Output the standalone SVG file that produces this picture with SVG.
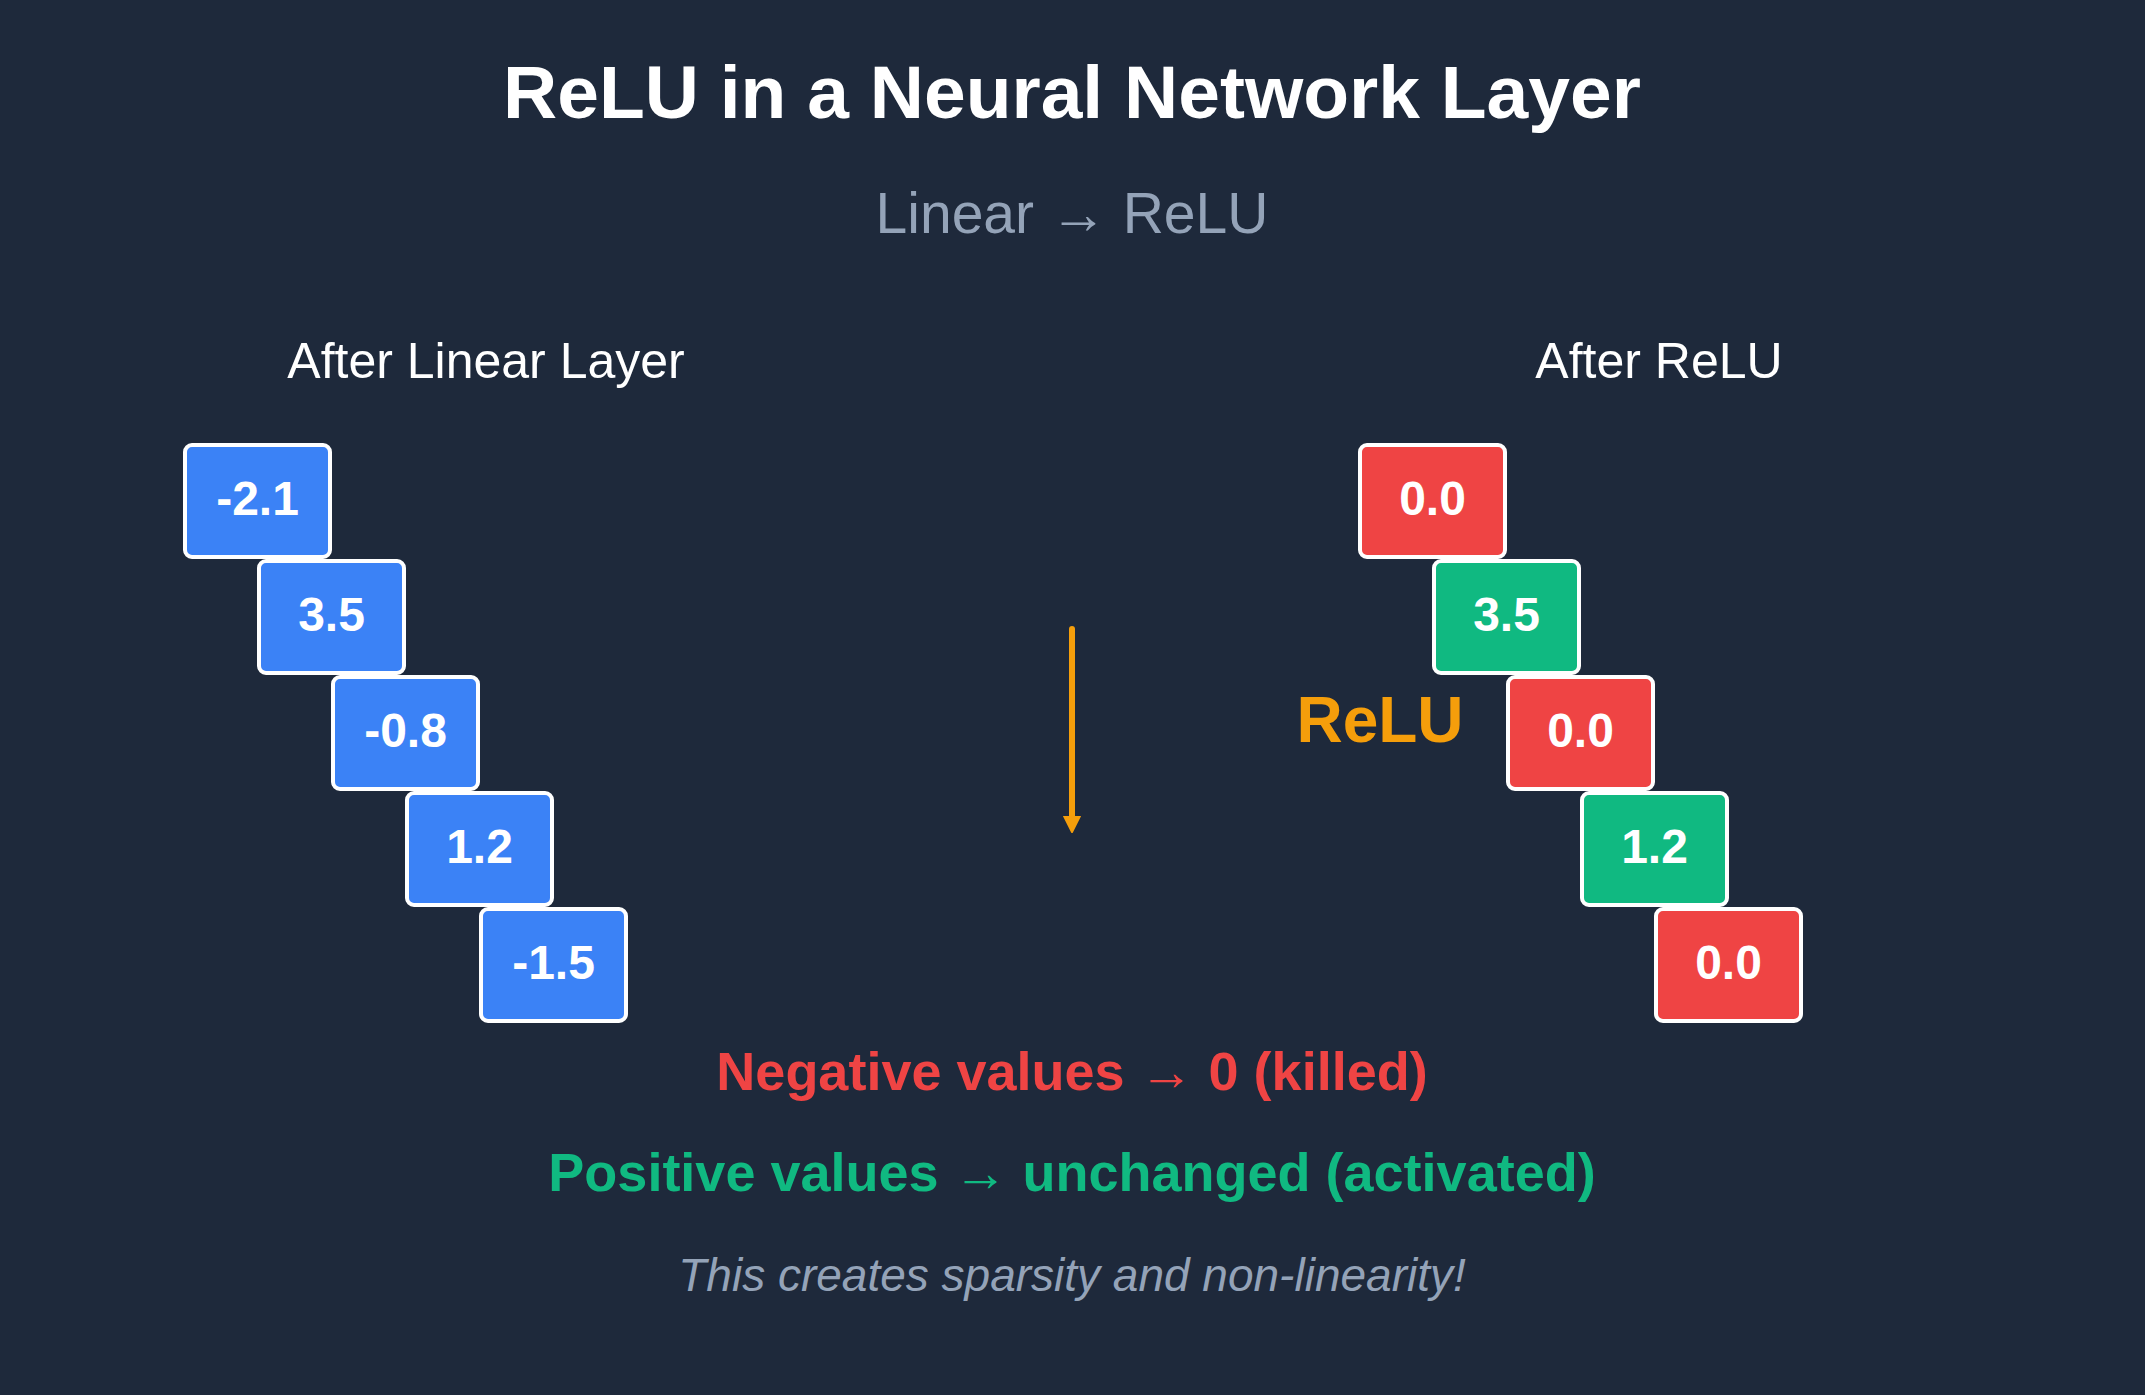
<svg xmlns="http://www.w3.org/2000/svg" width="2145" height="1395" viewBox="0 0 2145 1395">
<style>
.bg{fill:#1e293b}
.box{stroke:#ffffff;stroke-width:4}
.blue{fill:#3b82f6}
.red{fill:#ef4444}
.green{fill:#10b981}
.val{font-family:"Liberation Sans",Arial,sans-serif;font-weight:bold;font-size:48px;fill:#ffffff;text-anchor:middle}
.t{font-family:"Liberation Sans",Arial,sans-serif;text-anchor:middle}
</style>
<defs>
<marker id="ah" markerUnits="userSpaceOnUse" markerWidth="20" markerHeight="20" refX="2" refY="9" orient="auto">
<path d="M0,1 L16,9 L0,17 Z" fill="#f59e0b" stroke="#f59e0b" stroke-width="2" stroke-linejoin="round"/>
</marker>
</defs>
<rect class="bg" x="0" y="0" width="2145" height="1395"/>
<text class="t" x="1072" y="118" font-size="75" font-weight="bold" fill="#ffffff">ReLU in a Neural Network Layer</text>
<text class="t" x="1072" y="233" font-size="57" fill="#94a3b8">Linear → ReLU</text>
<text class="t" x="486" y="378" font-size="50" fill="#ffffff">After Linear Layer</text>
<text class="t" x="1659" y="378" font-size="50" fill="#ffffff">After ReLU</text>

<g id="connectors">
<line x1="1072" y1="629" x2="1072" y2="818" stroke="#f59e0b" stroke-width="6" stroke-linecap="round" marker-end="url(#ah)"/>
</g>
<text class="t" x="1380" y="742" font-size="64" font-weight="bold" fill="#f59e0b">ReLU</text>

<g id="in1"><rect class="box blue" x="185" y="445" width="145" height="112" rx="7"/><text class="val" x="257.5" y="515">-2.1</text></g>
<g id="in2"><rect class="box blue" x="259" y="561" width="145" height="112" rx="7"/><text class="val" x="331.5" y="631">3.5</text></g>
<g id="in3"><rect class="box blue" x="333" y="677" width="145" height="112" rx="7"/><text class="val" x="405.5" y="747">-0.8</text></g>
<g id="in4"><rect class="box blue" x="407" y="793" width="145" height="112" rx="7"/><text class="val" x="479.5" y="863">1.2</text></g>
<g id="in5"><rect class="box blue" x="481" y="909" width="145" height="112" rx="7"/><text class="val" x="553.5" y="979">-1.5</text></g>

<g id="out1"><rect class="box red" x="1360" y="445" width="145" height="112" rx="7"/><text class="val" x="1432.5" y="515">0.0</text></g>
<g id="out2"><rect class="box green" x="1434" y="561" width="145" height="112" rx="7"/><text class="val" x="1506.5" y="631">3.5</text></g>
<g id="out3"><rect class="box red" x="1508" y="677" width="145" height="112" rx="7"/><text class="val" x="1580.5" y="747">0.0</text></g>
<g id="out4"><rect class="box green" x="1582" y="793" width="145" height="112" rx="7"/><text class="val" x="1654.5" y="863">1.2</text></g>
<g id="out5"><rect class="box red" x="1656" y="909" width="145" height="112" rx="7"/><text class="val" x="1728.5" y="979">0.0</text></g>

<text class="t" x="1072" y="1090" font-size="54" font-weight="bold" fill="#ef4444">Negative values → 0 (killed)</text>
<text class="t" x="1072" y="1191" font-size="54" font-weight="bold" fill="#10b981">Positive values → unchanged (activated)</text>
<text class="t" x="1072" y="1291" font-size="46" font-style="italic" fill="#94a3b8">This creates sparsity and non-linearity!</text>
</svg>
